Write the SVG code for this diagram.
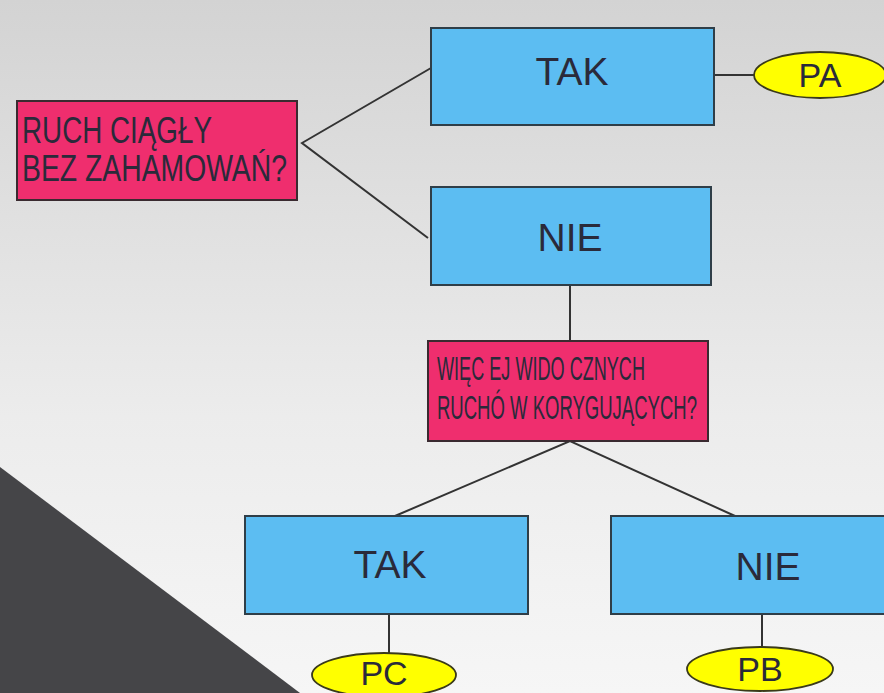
<svg xmlns="http://www.w3.org/2000/svg" width="884" height="693" viewBox="0 0 884 693">
<defs>
<linearGradient id="bg" x1="0" y1="0" x2="0" y2="1">
<stop offset="0" stop-color="#d3d3d3"/>
<stop offset="0.6" stop-color="#ececec"/>
<stop offset="1" stop-color="#f6f6f6"/>
</linearGradient>
<style>
.q{fill:#ef2e6e;stroke:#3a2a30;stroke-width:2}
.b{fill:#5cbdf2;stroke:#2f3e48;stroke-width:2}
.e{fill:#ffff00;stroke:#3a3a1a;stroke-width:1.8}
.c{stroke:#333;stroke-width:2;fill:none}
.t{font-family:"Liberation Sans",Arial,sans-serif;fill:#2a2a3a}
.big{font-size:39px;text-anchor:middle}
.el{font-size:34px;text-anchor:middle}
.qt{font-size:36px}
.qs{font-size:34px}
</style>
</defs>
<rect width="884" height="693" fill="url(#bg)"/>
<polygon points="0,467 300,693 0,693" fill="#454548"/>
<g id="connectors">
<polyline class="c" points="431,68 302,143 428,238"/>
<line class="c" x1="714" y1="75" x2="754" y2="75"/>
<line class="c" x1="570" y1="285" x2="570" y2="341"/>
<polyline class="c" points="395,516 570,441 735,516"/>
<line class="c" x1="389" y1="614" x2="389" y2="653"/>
<line class="c" x1="762" y1="614" x2="762" y2="647"/>
</g>
<g id="q1">
<rect class="q" x="17" y="101" width="280" height="99"/>
<text class="t qt" x="22" y="143" textLength="190" lengthAdjust="spacingAndGlyphs">RUCH CIĄGŁY</text>
<text class="t qt" x="22" y="181" textLength="265" lengthAdjust="spacingAndGlyphs">BEZ ZAHAMOWAŃ?</text>
</g>
<g id="tak1">
<rect class="b" x="431" y="28" width="283" height="97"/>
<text class="t big" x="572" y="85">TAK</text>
</g>
<g id="pa">
<ellipse class="e" cx="820" cy="75" rx="66" ry="23"/>
<text class="t el" x="820" y="87">PA</text>
</g>
<g id="nie1">
<rect class="b" x="431" y="187" width="280" height="98"/>
<text class="t big" x="570" y="251">NIE</text>
</g>
<g id="q2">
<rect class="q" x="428" y="341" width="280" height="100"/>
<text class="t qs" x="437" y="380" textLength="208" lengthAdjust="spacingAndGlyphs">WIĘC EJ WIDO CZNYCH</text>
<text class="t qs" x="437" y="419" textLength="260" lengthAdjust="spacingAndGlyphs">RUCHÓ W KORYGUJĄCYCH?</text>
</g>
<g id="tak2">
<rect class="b" x="245" y="516" width="283" height="98"/>
<text class="t big" x="390" y="578">TAK</text>
</g>
<g id="nie2">
<rect class="b" x="611" y="516" width="285" height="98"/>
<text class="t big" x="768" y="580">NIE</text>
</g>
<g id="pc">
<ellipse class="e" cx="384" cy="675" rx="72" ry="22"/>
<text class="t el" x="384" y="685">PC</text>
</g>
<g id="pb">
<ellipse class="e" cx="760" cy="669" rx="73" ry="22"/>
<text class="t el" x="760" y="681">PB</text>
</g>
</svg>
